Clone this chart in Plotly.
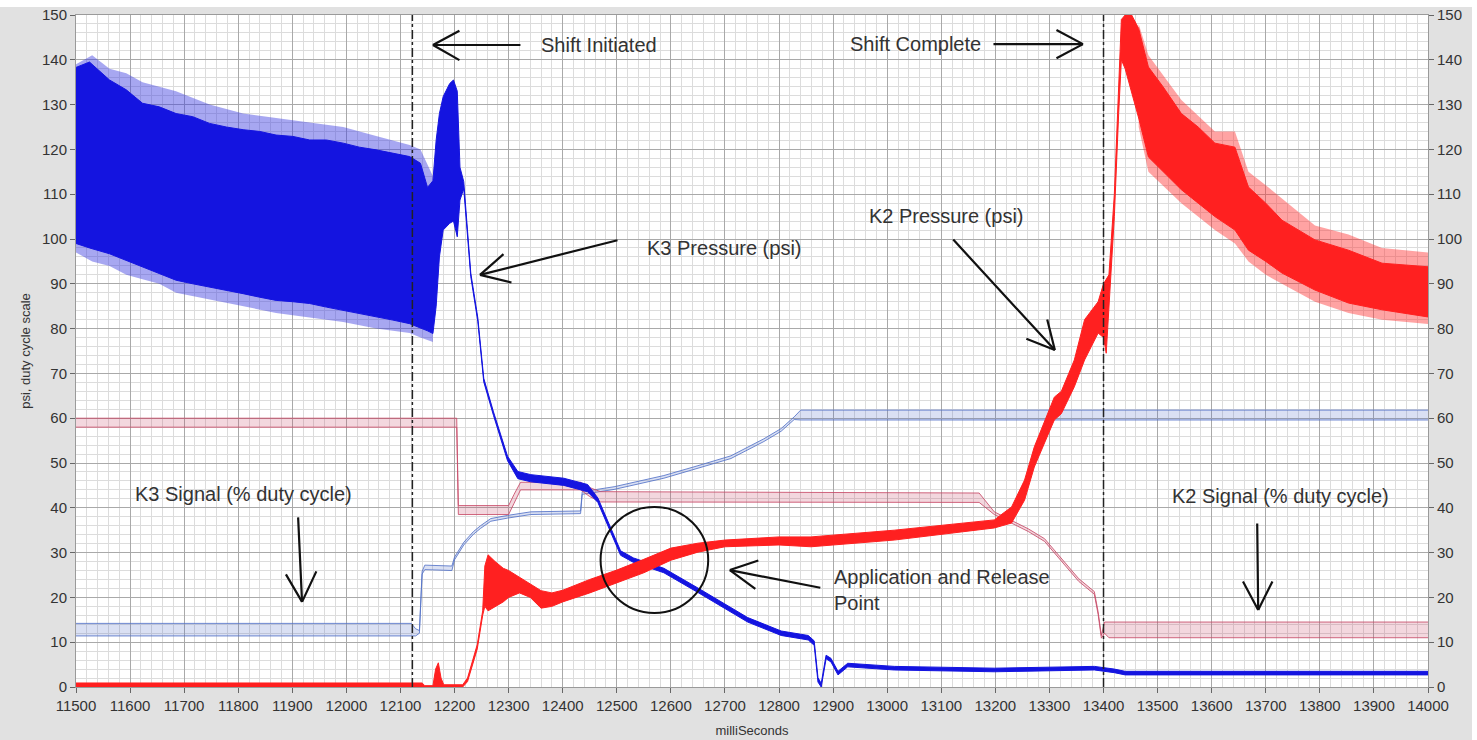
import plotly.graph_objects as go

# ---------------- data ----------------
# K3 pressure (blue) - envelope of the noisy trace
k3p_x  = [11500, 11525, 11562, 11593, 11623, 11654, 11685, 11716, 11747, 11778, 11809, 11840, 11870, 11901, 11932, 11963, 11994, 12024, 12055, 12086, 12117, 12137, 12150, 12160, 12166, 12172, 12179, 12191, 12198, 12205, 12210, 12217,
          12230, 12243, 12254, 12272, 12298, 12317, 12341, 12402, 12446, 12465, 12483, 12507, 12531, 12587, 12650, 12742, 12804, 12854, 12865, 12872, 12878, 12887, 12896, 12909, 12927, 13013, 13198, 13383, 13420, 13440, 14000]
k3p_hi = [138.3, 139.5, 135.5, 133.3, 130.3, 129.5, 128.0, 127.3, 125.8, 125.0, 124.4, 124.0, 123.2, 122.9, 122.1, 122.1, 121.4, 120.5, 119.9, 119.1, 118.4, 116.9, 111.5, 113.0, 122.1, 128.0, 131.8, 134.7, 135.5, 133.0, 116.0, 112.8,
          92.4, 82.4, 68.9, 61.4, 51.5, 48.1, 47.4, 46.6, 45.2, 42.2, 37.1, 30.4, 28.8, 26.5, 22.1, 15.5, 12.5, 11.5, 10.3, 2.1, 0.8, 7.1, 6.4, 3.5, 5.3, 4.6, 4.2, 4.6, 4.0, 3.5, 3.5]
k3p_lo = [99.0, 98.0, 96.7, 95.2, 93.8, 92.3, 90.8, 90.0, 89.3, 88.5, 87.8, 87.0, 86.3, 86.0, 85.6, 84.8, 84.1, 83.4, 82.6, 81.9, 81.1, 80.2, 79.5, 78.9, 85.0, 96.0, 102.0, 103.5, 104.0, 100.5, 108.7, 111.2,
          91.6, 81.6, 68.1, 60.6, 50.5, 46.5, 45.8, 45.0, 43.6, 41.2, 36.1, 29.4, 27.8, 25.5, 21.1, 14.5, 11.5, 10.5, 9.3, 1.1, 0.0, 6.3, 5.6, 2.7, 4.5, 3.8, 3.4, 3.8, 3.2, 2.7, 2.7]
# outer reach of the K3 pressure noise spikes
k3sp_x  = [11500, 11530, 11562, 11593, 11623, 11654, 11685, 11747, 11809, 11870, 11932, 11994, 12055, 12117, 12137, 12160]
k3sp_hi = [139.0, 141.0, 138.0, 137.0, 135.0, 134.0, 133.0, 130.0, 128.0, 127.0, 126.0, 125.0, 123.0, 121.0, 120.0, 114.0]
k3sp_lo = [97.0, 95.0, 94.0, 92.0, 91.0, 90.0, 88.0, 86.5, 85.0, 83.5, 82.5, 81.5, 80.0, 79.0, 78.0, 77.0]

# K2 pressure (red) - envelope of the noisy trace
k2p_x  = [11500, 12140, 12145, 12160, 12165, 12170, 12175, 12180, 12215, 12224, 12242, 12252, 12256, 12262, 12275, 12290, 12300, 12320, 12340, 12360, 12380, 12400, 12450, 12500, 12550, 12600, 12650, 12700, 12800, 12859, 13013, 13198,
          13230, 13254, 13272, 13309, 13322, 13346, 13365, 13390, 13400, 13405, 13410, 13420, 13428, 13433, 13440, 13452, 13465, 13483, 13510, 13544, 13575, 13606, 13643, 13668, 13700, 13730, 13791, 13853, 13915, 14000]
k2p_hi = [0.9, 0.9, 0.3, 0.3, 4.0, 5.4, 2.0, 0.5, 0.5, 2.0, 9.5, 17.0, 27.0, 29.5, 28.0, 26.5, 26.0, 24.5, 23.0, 21.5, 21.0, 21.6, 24.0, 26.1, 28.5, 31.0, 32.1, 32.8, 33.5, 33.5, 35.0, 37.3,
          40.2, 46.2, 53.6, 64.7, 66.0, 73.0, 82.0, 86.0, 90.0, 91.0, 92.0, 110.0, 133.0, 149.0, 150.0, 150.0, 147.0, 138.4, 134.0, 128.0, 125.0, 121.4, 120.5, 111.6, 108.0, 104.2, 99.8, 97.5, 94.6, 93.8]
k2p_lo = [0.0, 0.0, 0.0, 0.0, 0.0, 0.0, 0.0, 0.0, 0.0, 1.2, 8.5, 16.0, 18.0, 17.0, 18.0, 19.0, 20.0, 21.0, 20.0, 17.6, 18.0, 19.0, 21.0, 23.2, 25.5, 28.3, 30.1, 31.3, 31.7, 31.3, 32.8, 35.5,
          36.6, 41.7, 49.1, 59.6, 61.0, 67.0, 73.0, 79.0, 78.0, 74.5, 85.0, 105.0, 128.0, 140.0, 138.0, 133.0, 127.0, 118.3, 115.0, 111.0, 108.0, 105.0, 102.0, 97.5, 95.0, 92.4, 88.6, 85.7, 84.2, 82.6]
# outer reach of the K2 pressure noise spikes
k2sp_x  = [13465, 13483, 13544, 13606, 13643, 13668, 13700, 13791, 13853, 13915, 14000]
k2sp_hi = [148.0, 141.0, 131.0, 124.0, 124.0, 115.0, 112.0, 103.0, 101.0, 98.0, 97.0]
k2sp_lo = [125.0, 115.0, 108.0, 102.0, 99.0, 95.0, 92.0, 86.0, 83.5, 82.0, 81.0]

# K3 signal (% duty cycle, light blue) - ripple envelope
k3s_x  = [11500, 12120, 12128, 12135, 12140, 12145, 12195, 12200, 12217, 12235, 12248, 12267, 12298, 12341, 12433, 12436, 12495, 12587, 12650, 12711, 12772, 12804, 12828, 12840, 14000]
k3s_hi = [14.2, 14.2, 13.0, 12.6, 25.8, 27.2, 27.0, 29.0, 32.3, 34.7, 36.0, 37.6, 38.3, 39.1, 39.3, 43.6, 44.7, 47.2, 49.4, 51.6, 55.4, 57.7, 60.3, 61.8, 61.8]
k3s_lo = [11.4, 11.4, 11.4, 12.0, 25.2, 26.2, 26.0, 28.4, 31.7, 34.1, 35.4, 37.0, 37.7, 38.5, 38.7, 43.0, 44.1, 46.6, 48.8, 51.0, 54.8, 57.1, 59.7, 59.6, 59.6]

# K2 signal (% duty cycle, crimson) - ripple envelope
k2s_x  = [11500, 12204, 12207, 12300, 12310, 12322, 12433, 12450, 12470, 13170, 13198, 13235, 13261, 13291, 13322, 13354, 13383, 13390, 13396, 13402, 13410, 14000]
k2s_hi = [60.0, 60.0, 40.5, 40.5, 43.0, 45.7, 45.7, 44.5, 43.6, 43.3, 39.1, 36.9, 35.3, 33.1, 28.6, 24.2, 21.3, 16.8, 11.5, 14.5, 14.5, 14.5]
k2s_lo = [58.0, 58.0, 38.5, 38.5, 41.0, 44.0, 44.0, 42.5, 41.3, 41.2, 38.5, 36.3, 34.7, 32.5, 28.0, 23.6, 20.7, 16.2, 10.9, 12.0, 11.0, 11.0]

shift_lines = [12122, 13400]
x_ticks = list(range(11500, 14001, 100))
y_ticks = list(range(0, 151, 10))

# ---------------- figure ----------------
fig = go.Figure()

def band(x, lo, hi, color, fillcolor, width, name):
    fig.add_trace(go.Scatter(x=x, y=lo, mode="lines", line=dict(color=color, width=width),
                             hoverinfo="skip", showlegend=False, name=name + " low"))
    fig.add_trace(go.Scatter(x=x, y=hi, mode="lines", line=dict(color=color, width=width),
                             fill="tonexty", fillcolor=fillcolor, showlegend=False, name=name))

band(k3s_x, k3s_lo, k3s_hi, "rgba(85,115,200,0.85)", "rgba(85,115,200,0.22)", 1, "K3 Signal")
band(k2s_x, k2s_lo, k2s_hi, "rgba(200,75,105,0.85)", "rgba(200,75,105,0.22)", 1, "K2 Signal")
band(k3sp_x, k3sp_lo, k3sp_hi, "rgba(60,60,225,0)", "rgba(60,60,225,0.45)", 0, "K3 Pressure spikes")
band(k3p_x, k3p_lo, k3p_hi, "#1414e0", "#1414e0", 1, "K3 Pressure")
band(k2sp_x, k2sp_lo, k2sp_hi, "rgba(255,50,50,0)", "rgba(255,50,50,0.45)", 0, "K2 Pressure spikes")
band(k2p_x, k2p_lo, k2p_hi, "#ff2020", "#ff2020", 1, "K2 Pressure")

# invisible trace to bind the right axis
fig.add_trace(go.Scatter(x=[11500], y=[0], yaxis="y2", mode="markers",
                         marker=dict(opacity=0), showlegend=False, hoverinfo="skip"))

for xv in shift_lines:
    fig.add_shape(type="line", x0=xv, x1=xv, y0=0, y1=150, xref="x", yref="y",
                  line=dict(color="#222222", width=1.5, dash="dashdot"), layer="above")

# circle round the application/release point
fig.add_shape(type="circle", x0=12470, x1=12669, y0=16.5, y1=40.2, xref="x", yref="y",
              line=dict(color="#111111", width=2), layer="above")

afont = dict(family="Liberation Sans, Arial, sans-serif", size=20, color="#333333")

def label(x, y, text):
    fig.add_annotation(x=x, y=y, text=text, showarrow=False, xanchor="left", yanchor="middle",
                       align="left", font=afont)

def seg(x, y, dx, dy):
    fig.add_annotation(x=x, y=y, text="", showarrow=True, arrowhead=0, arrowwidth=2.2,
                       arrowcolor="#111111", ax=dx, ay=dy, standoff=0, startstandoff=0)

def arrow(x, y, shaft, arm1, arm2):
    seg(x, y, *shaft)
    seg(x, y, *arm1)
    seg(x, y, *arm2)

label(12356, 143.3, "Shift Initiated")
arrow(12160, 143.3, (89, 0), (28, -15), (28, 16))

label(12928, 143.5, "Shift Complete")
arrow(13362, 143.5, (-91, 0), (-28, -15), (-28, 15))

label(12552, 98.0, "K3 Pressure (psi)")
arrow(12247, 92.0, (139, -35), (25, -22), (33, 8))

label(12963, 105.1, "K2 Pressure (psi)")
arrow(13310, 75.2, (-103, -112), (-30, -12), (-8, -32))

label(11605, 43.1, "K3 Signal (% duty cycle)")
arrow(11918, 19.0, (-4, -86), (-17, -29), (15, -32))

label(13523, 42.6, "K2 Signal (% duty cycle)")
arrow(13686, 17.2, (-1, -88), (-16, -30), (15, -30))

label(12898, 21.7, "Application and Release<br>Point")
arrow(12709, 26.1, (92, 18), (30, -10), (27, 20))

# thin white strips of the screenshot frame
fig.add_shape(type="rect", xref="paper", yref="paper", x0=-0.06, x1=1.04,
              y0=1 + 8 / 672, y1=1 + 16 / 672, fillcolor="white", line_width=0, layer="below")
fig.add_shape(type="rect", xref="paper", yref="paper", x0=1 + 44 / 1352, x1=1 + 50 / 1352,
              y0=-0.08, y1=1.03, fillcolor="white", line_width=0, layer="below")

tfam = "Liberation Sans, Arial, sans-serif"
tickfont = dict(family=tfam, size=15, color="#333333")

fig.update_layout(
    width=1477, height=740,
    margin=dict(l=76, r=49, t=15, b=53),
    paper_bgcolor="#e1e1e1",
    plot_bgcolor="white",
    showlegend=False,
    xaxis=dict(range=[11500, 14000], tickvals=x_ticks, tickformat="d", ticks="outside", ticklen=5,
               tickcolor="#666666", tickfont=tickfont, showgrid=True, gridcolor="#a9a9a9",
               gridwidth=1, zeroline=False, showline=True, linecolor="#9a9a9a", mirror=True,
               automargin=False,
               minor=dict(dtick=20, showgrid=True, gridcolor="#dcdcdc", gridwidth=1),
               title=dict(text="milliSeconds", font=dict(family=tfam, size=13, color="#333333"),
                          standoff=12)),
    yaxis=dict(range=[0, 150], tickvals=y_ticks, ticks="outside", ticklen=5,
               tickcolor="#666666", tickfont=tickfont, showgrid=True, gridcolor="#a9a9a9",
               gridwidth=1, zeroline=False, showline=True, linecolor="#9a9a9a", automargin=False,
               minor=dict(dtick=2, showgrid=True, gridcolor="#dcdcdc", gridwidth=1),
               title=dict(text="psi, duty cycle scale", font=dict(family=tfam, size=13, color="#333333"),
                          standoff=8)),
    yaxis2=dict(range=[0, 150], tickvals=y_ticks, overlaying="y", side="right", ticks="outside",
                ticklen=5, tickcolor="#666666", tickfont=tickfont, showgrid=False, zeroline=False,
                showline=True, linecolor="#9a9a9a", automargin=False),
)

fig.write_html("out.html")
